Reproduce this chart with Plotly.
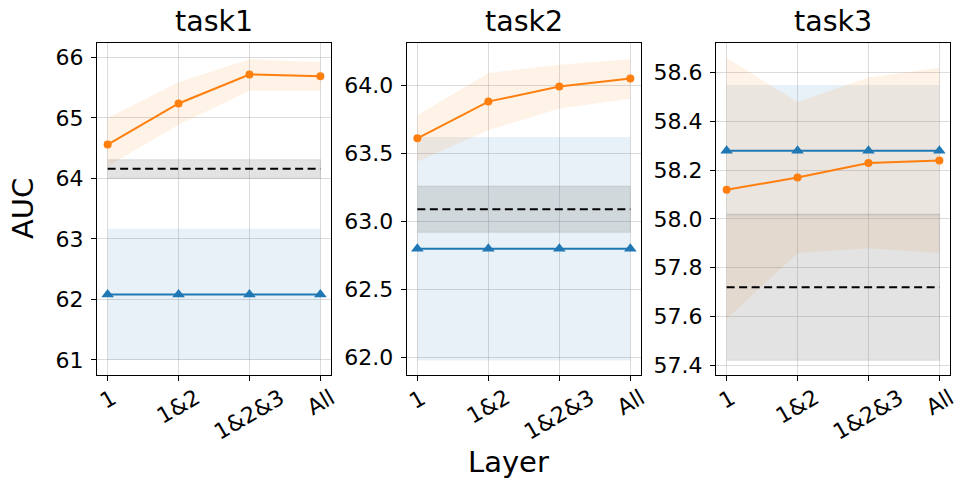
import plotly.graph_objects as go

layers = ["1", "1&2", "1&2&3", "All"]
tasks = ["task1", "task2", "task3"]

# orange series (mean, lower, upper)
orange_mean = [[64.56, 65.24, 65.72, 65.69],
               [63.61, 63.88, 63.99, 64.05],
               [58.12, 58.17, 58.23, 58.24]]
orange_lo = [[64.20, 64.89, 65.45, 65.45],
             [63.44, 63.67, 63.83, 63.90],
             [57.59, 57.86, 57.88, 57.86]]
orange_hi = [[65.00, 65.59, 65.97, 65.92],
             [63.78, 64.09, 64.15, 64.19],
             [58.66, 58.48, 58.58, 58.62]]

# blue series (constant)
blue_mean = [62.08, 62.80, 58.28]
blue_lo = [61.00, 61.98, 58.01]
blue_hi = [63.17, 63.62, 58.55]

# baseline (dashed) with band
base_mean = [64.16, 63.09, 57.72]
base_lo = [64.00, 62.92, 57.42]
base_hi = [64.31, 63.26, 58.02]

y_ranges = [[60.75, 66.24], [61.873, 64.31], [57.36, 58.722]]
y_ticks = [[61, 62, 63, 64, 65, 66],
           [62.0, 62.5, 63.0, 63.5, 64.0],
           [57.4, 57.6, 57.8, 58.0, 58.2, 58.4, 58.6]]
y_fmt = ["d", ".1f", ".1f"]

W, H = 968, 492
x_dom_px = [(97, 331), (406.7, 641), (716, 950)]
y_top_px, y_bot_px = 43, 375

BLUE = "#1f77b4"
ORANGE = "#ff7f0e"
FONT = "DejaVu Sans"

fig = go.Figure()
xi = list(range(len(layers)))
n = len(layers)

for i in range(3):
    xa = "x" if i == 0 else f"x{i+1}"
    ya = "y" if i == 0 else f"y{i+1}"
    # blue band
    fig.add_trace(go.Scatter(x=xi + xi[::-1], y=[blue_hi[i]] * n + [blue_lo[i]] * n,
                             fill="toself", fillcolor="rgba(31,119,180,0.1)",
                             line=dict(width=0), mode="lines", hoverinfo="skip",
                             showlegend=False, xaxis=xa, yaxis=ya))
    # orange band
    fig.add_trace(go.Scatter(x=xi + xi[::-1], y=orange_hi[i] + orange_lo[i][::-1],
                             fill="toself", fillcolor="rgba(255,127,14,0.1)",
                             line=dict(width=0), mode="lines", hoverinfo="skip",
                             showlegend=False, xaxis=xa, yaxis=ya))
    # baseline band
    fig.add_trace(go.Scatter(x=xi + xi[::-1], y=[base_hi[i]] * n + [base_lo[i]] * n,
                             fill="toself", fillcolor="rgba(128,128,128,0.22)",
                             line=dict(width=1.2, color="rgba(128,128,128,0.15)"),
                             mode="lines", hoverinfo="skip",
                             showlegend=False, xaxis=xa, yaxis=ya))
    # baseline dashed
    fig.add_trace(go.Scatter(x=[xi[0], xi[-1]], y=[base_mean[i]] * 2, mode="lines",
                             line=dict(color="black", width=2, dash="8px,4.5px"),
                             showlegend=False, xaxis=xa, yaxis=ya))
    # blue line
    fig.add_trace(go.Scatter(x=xi, y=[blue_mean[i]] * n, mode="lines+markers",
                             line=dict(color=BLUE, width=2),
                             marker=dict(symbol="triangle-up", size=11, color=BLUE),
                             showlegend=False, xaxis=xa, yaxis=ya))
    # orange line
    fig.add_trace(go.Scatter(x=xi, y=orange_mean[i], mode="lines+markers",
                             line=dict(color=ORANGE, width=2),
                             marker=dict(symbol="circle", size=8, color=ORANGE),
                             showlegend=False, xaxis=xa, yaxis=ya))

layout = dict(width=W, height=H, margin=dict(l=0, r=0, t=0, b=0),
              paper_bgcolor="white", plot_bgcolor="white",
              font=dict(family=FONT, size=22, color="black"))
annotations = []
for i in range(3):
    xk = "xaxis" if i == 0 else f"xaxis{i+1}"
    yk = "yaxis" if i == 0 else f"yaxis{i+1}"
    xa = "x" if i == 0 else f"x{i+1}"
    ya = "y" if i == 0 else f"y{i+1}"
    x0, x1 = x_dom_px[i]
    layout[xk] = dict(domain=[x0 / W, x1 / W], anchor=ya, range=[-0.15, 3.15],
                      tickvals=xi, showticklabels=False, ticks="outside", ticklen=5,
                      tickcolor="black", showline=True, mirror=True, linecolor="black",
                      linewidth=1.2, showgrid=True, gridcolor="rgba(176,176,176,0.45)",
                      gridwidth=1, zeroline=False, automargin=False)
    layout[yk] = dict(domain=[1 - y_bot_px / H, 1 - y_top_px / H], anchor=xa,
                      range=y_ranges[i], tickvals=y_ticks[i], tickformat=y_fmt[i],
                      ticks="outside", ticklen=5, tickcolor="black", showline=True,
                      mirror=True, linecolor="black", linewidth=1.2, showgrid=True,
                      gridcolor="rgba(176,176,176,0.45)", gridwidth=1, zeroline=False,
                      tickfont=dict(size=22), ticklabelstandoff=3, automargin=False)
    # title
    annotations.append(dict(text=tasks[i], x=(x0 + x1) / 2 / W, y=1 - 22 / H,
                            xref="paper", yref="paper", xanchor="center", yanchor="middle",
                            showarrow=False, font=dict(size=28.5)))
    # rotated x tick labels
    for j, lab in enumerate(layers):
        annotations.append(dict(text=lab, x=xi[j], xref=xa, y=1 - 382 / H, yref="paper",
                                xanchor="center", yanchor="top", textangle=-30,
                                showarrow=False, font=dict(size=22)))

annotations.append(dict(text="AUC", x=23 / W, y=1 - 209 / H, xref="paper", yref="paper",
                        xanchor="center", yanchor="middle", textangle=-90,
                        showarrow=False, font=dict(size=29)))
annotations.append(dict(text="Layer", x=508 / W, y=1 - 462 / H, xref="paper", yref="paper",
                        xanchor="center", yanchor="middle", showarrow=False,
                        font=dict(size=29)))
layout["annotations"] = annotations
fig.update_layout(**layout)
fig.write_html("out.html", config={"displayModeBar": False},
               post_script="document.body.style.margin='0';document.body.style.padding='0';")
